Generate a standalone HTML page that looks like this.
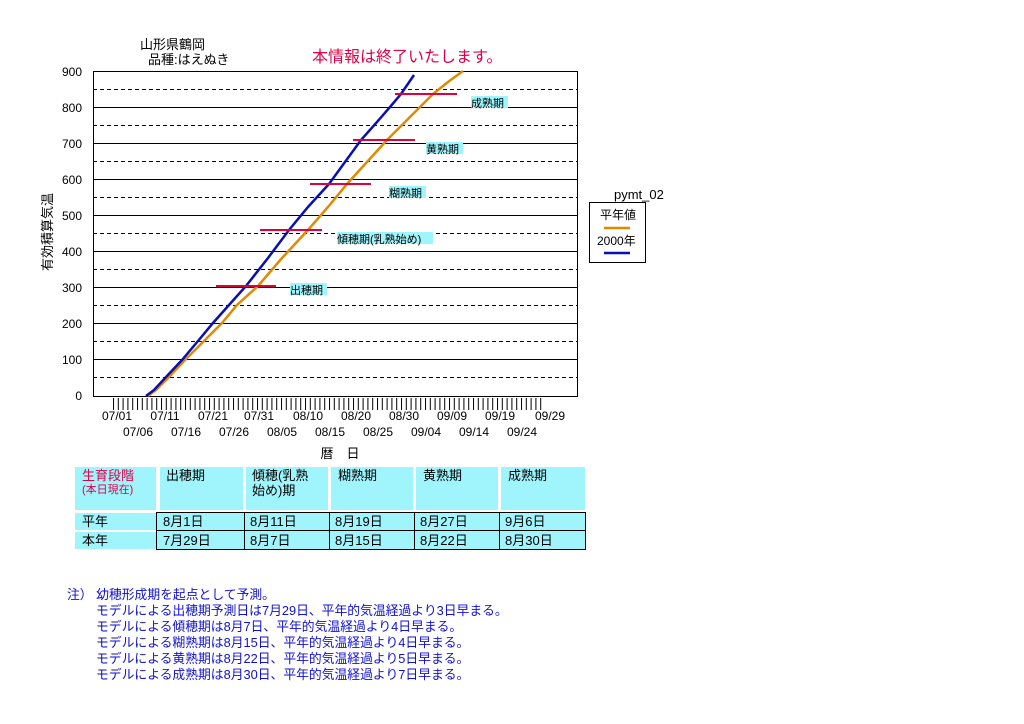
<!DOCTYPE html><html><head><meta charset="utf-8"><style>
body{margin:0;background:#fff;width:1024px;height:724px;overflow:hidden;font-family:"Liberation Sans","Noto Sans CJK JP",sans-serif}
svg{position:absolute;left:0;top:0}
</style></head><body>
<svg width="1024" height="724" xmlns="http://www.w3.org/2000/svg" font-family="Liberation Sans, Noto Sans CJK JP, sans-serif">
<defs><pattern id="tk" x="113" y="0" width="4.8" height="20" patternUnits="userSpaceOnUse"><rect x="0" y="0" width="1" height="20" fill="#000"/></pattern></defs>
<text x="140" y="49" font-size="13">山形県鶴岡</text>
<text x="148" y="64" font-size="13">品種:はえぬき</text>
<text x="312" y="62" font-size="16" fill="#e0004a">本情報は終了いたします。</text>
<g stroke="#000" stroke-width="1">
<line x1="93" y1="107.5" x2="577" y2="107.5"/><line x1="93" y1="143.5" x2="577" y2="143.5"/><line x1="93" y1="179.5" x2="577" y2="179.5"/><line x1="93" y1="215.5" x2="577" y2="215.5"/><line x1="93" y1="251.5" x2="577" y2="251.5"/><line x1="93" y1="287.5" x2="577" y2="287.5"/><line x1="93" y1="323.5" x2="577" y2="323.5"/><line x1="93" y1="359.5" x2="577" y2="359.5"/>
<g stroke-dasharray="4,3"><line x1="93" y1="89.5" x2="577" y2="89.5"/><line x1="93" y1="125.5" x2="577" y2="125.5"/><line x1="93" y1="161.5" x2="577" y2="161.5"/><line x1="93" y1="197.5" x2="577" y2="197.5"/><line x1="93" y1="233.5" x2="577" y2="233.5"/><line x1="93" y1="269.5" x2="577" y2="269.5"/><line x1="93" y1="305.5" x2="577" y2="305.5"/><line x1="93" y1="341.5" x2="577" y2="341.5"/><line x1="93" y1="377.5" x2="577" y2="377.5"/></g>
<rect x="93.5" y="71.5" width="484" height="325" fill="none"/>
</g>
<rect x="113" y="398" width="429" height="12" fill="url(#tk)"/>
<g font-size="12" text-anchor="end">
<text x="82" y="76">900</text><text x="82" y="112">800</text><text x="82" y="148">700</text><text x="82" y="184">600</text><text x="82" y="220">500</text><text x="82" y="256">400</text><text x="82" y="292">300</text><text x="82" y="328">200</text><text x="82" y="364">100</text><text x="82" y="400">0</text></g>
<g font-size="12" text-anchor="middle">
<text x="117" y="420">07/01</text><text x="165" y="420">07/11</text><text x="213" y="420">07/21</text><text x="259" y="420">07/31</text><text x="308" y="420">08/10</text><text x="356" y="420">08/20</text><text x="404" y="420">08/30</text><text x="452" y="420">09/09</text><text x="500" y="420">09/19</text><text x="550" y="420">09/29</text>
<text x="138" y="436">07/06</text><text x="186" y="436">07/16</text><text x="234" y="436">07/26</text><text x="282" y="436">08/05</text><text x="330" y="436">08/15</text><text x="378" y="436">08/25</text><text x="426" y="436">09/04</text><text x="474" y="436">09/14</text><text x="522" y="436">09/24</text>
<text x="340" y="458" font-size="13">暦　日</text></g>
<text transform="translate(52,232) rotate(-90)" font-size="13" text-anchor="middle">有効積算気温</text>
<polyline fill="none" stroke="#e08a00" stroke-width="2.5" points="148,396 156,390 168,378 185,360 204,341 222,323 237,305 258,286 282,258 308,230 328,207 347,184 367,162 387,140 420,107 433,94 448,82 463,71"/>
<polyline fill="none" stroke="#0a10b0" stroke-width="2.5" points="146,396 154,390 166,377 182,360 198,341 213,323 229,305 246,286 268,258 289,230 308,207 329,184 345,162 361,140 377,122 390,107 401,94 414,75"/>
<g stroke="#e0003c" stroke-width="2"><line x1="216" y1="286" x2="276" y2="286"/><line x1="260" y1="230" x2="322" y2="230"/><line x1="310" y1="184" x2="371" y2="184"/><line x1="353" y1="140" x2="415" y2="140"/><line x1="395" y1="94" x2="457" y2="94"/></g>
<g fill="#a0f4fc"><rect x="290" y="283" width="37" height="12"/><rect x="337" y="232" width="96" height="12"/><rect x="389" y="186" width="37" height="12"/><rect x="426" y="142" width="37" height="12"/><rect x="471" y="96" width="37" height="12"/></g>
<g font-size="11"><text x="290" y="294">出穂期</text><text x="337" y="243">傾穂期(乳熟始め)</text><text x="389" y="197">糊熟期</text><text x="426" y="153">黄熟期</text><text x="471" y="107">成熟期</text></g>
<text x="614" y="199" font-size="13">pymt_02</text>
<rect x="589.5" y="202.5" width="56" height="60" fill="#fff" stroke="#000"/>
<text x="600" y="219" font-size="12">平年値</text><line x1="604" y1="228" x2="630" y2="228" stroke="#e08a00" stroke-width="2.5"/>
<text x="597" y="245" font-size="12">2000年</text><line x1="604" y1="253" x2="630" y2="253" stroke="#0a10b0" stroke-width="2.5"/>
<g fill="#a0f4fc"><rect x="75" y="467" width="81" height="43"/><rect x="160" y="467" width="83" height="43"/><rect x="246" y="467" width="82" height="43"/><rect x="331" y="467" width="82" height="43"/><rect x="416" y="467" width="82" height="43"/><rect x="501" y="467" width="84" height="43"/>
<rect x="75" y="513" width="81" height="17"/><rect x="75" y="532" width="81" height="17"/><rect x="156" y="512" width="430" height="37"/></g>
<g fill="none" stroke="#000" stroke-width="1"><rect x="156.5" y="512.5" width="429" height="37"/><line x1="156" y1="530.5" x2="586" y2="530.5"/><line x1="244.5" y1="512" x2="244.5" y2="550"/><line x1="329.5" y1="512" x2="329.5" y2="550"/><line x1="414.5" y1="512" x2="414.5" y2="550"/><line x1="499.5" y1="512" x2="499.5" y2="550"/></g>
<g font-size="13"><text x="82" y="480" fill="#e0004a">生育段階</text><text x="82" y="493" font-size="11" fill="#e0004a">(本日現在)</text>
<text x="166" y="480">出穂期</text><text x="252" y="480">傾穂(乳熟</text><text x="252" y="495">始め)期</text><text x="338" y="480">糊熟期</text><text x="423" y="480">黄熟期</text><text x="508" y="480">成熟期</text>
<text x="82" y="526">平年</text><text x="82" y="545">本年</text>
<g font-size="13"><text x="163" y="526">8月1日</text><text x="250" y="526">8月11日</text><text x="335" y="526">8月19日</text><text x="420" y="526">8月27日</text><text x="505" y="526">9月6日</text>
<text x="163" y="545">7月29日</text><text x="250" y="545">8月7日</text><text x="335" y="545">8月15日</text><text x="420" y="545">8月22日</text><text x="505" y="545">8月30日</text></g></g>
<g font-size="12.8" fill="#1010d0"><text x="67" y="599">注）  幼穂形成期を起点として予測。</text>
<text x="96" y="615">モデルによる出穂期予測日は7月29日、平年的気温経過より3日早まる。</text>
<text x="96" y="631">モデルによる傾穂期は8月7日、平年的気温経過より4日早まる。</text>
<text x="96" y="647">モデルによる糊熟期は8月15日、平年的気温経過より4日早まる。</text>
<text x="96" y="663">モデルによる黄熟期は8月22日、平年的気温経過より5日早まる。</text>
<text x="96" y="679">モデルによる成熟期は8月30日、平年的気温経過より7日早まる。</text></g>
</svg></body></html>
